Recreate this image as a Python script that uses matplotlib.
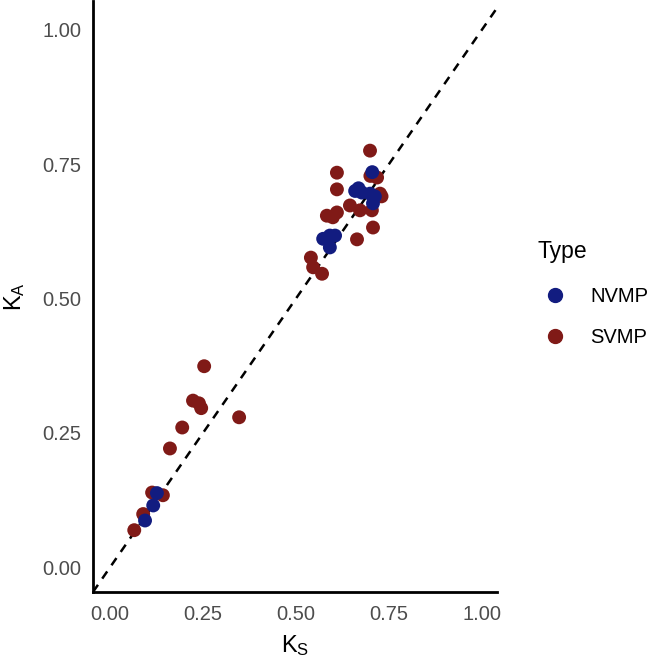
import numpy as np
import matplotlib.pyplot as plt
from matplotlib.lines import Line2D

plt.rcParams['font.family'] = ['Liberation Sans', 'DejaVu Sans']
plt.rcParams['mathtext.fontset'] = 'custom'
plt.rcParams['mathtext.rm'] = 'Liberation Sans'
plt.rcParams['mathtext.it'] = 'Liberation Sans'

# NVMP points (Ks, Ka)
nvmp_ks = [0.094, 0.116, 0.126, 0.573, 0.591, 0.605, 0.591, 0.659, 0.677,
           0.699, 0.707, 0.705, 0.712, 0.668]
nvmp_ka = [0.087, 0.115, 0.138, 0.611, 0.595, 0.617, 0.617, 0.700, 0.697,
           0.695, 0.677, 0.735, 0.690, 0.705]

# SVMP points (Ks, Ka)
svmp_ks = [0.065, 0.089, 0.113, 0.142, 0.161, 0.194, 0.223, 0.239, 0.245,
           0.253, 0.347, 0.540, 0.546, 0.570, 0.583, 0.599, 0.610, 0.645,
           0.672, 0.704, 0.707, 0.664, 0.610, 0.610, 0.699, 0.700, 0.718,
           0.726, 0.730]
svmp_ka = [0.069, 0.099, 0.139, 0.134, 0.221, 0.260, 0.310, 0.305, 0.296,
           0.374, 0.279, 0.576, 0.558, 0.546, 0.654, 0.651, 0.660, 0.673,
           0.664, 0.664, 0.632, 0.610, 0.734, 0.703, 0.775, 0.728, 0.725,
           0.695, 0.690]

blue = '#121C80'
red = '#801A17'

fig = plt.figure(figsize=(6.52, 6.58), dpi=100)
ax = fig.add_axes([0.1426, 0.1003, 0.6194, 0.8987])

ax.axline((0, 0), slope=1, color='black', lw=1.8, ls=(0, (3.5, 3)), zorder=1)
ax.scatter(nvmp_ks, nvmp_ka, s=100, color=blue, edgecolors='none', zorder=3)
ax.scatter(svmp_ks, svmp_ka, s=100, color=red, edgecolors='none', zorder=2)

ax.set_xlim(-0.046, 1.04)
ax.set_ylim(-0.046, 1.054)
ticks = [0, 0.25, 0.5, 0.75, 1.0]
labels = ['0.00', '0.25', '0.50', '0.75', '1.00']
ax.set_xticks(ticks, labels)
ax.set_yticks(ticks, labels)
ax.tick_params(length=0, labelsize=14.5, labelcolor='#4D4D4D')
ax.tick_params(axis='x', pad=9.5)
ax.tick_params(axis='y', pad=8.5)

for s in ['top', 'right']:
    ax.spines[s].set_visible(False)
for s in ['left', 'bottom']:
    ax.spines[s].set_linewidth(2)

ax.set_xlabel(r'$\mathregular{K_S}$', fontsize=17)
ax.set_ylabel(r'$\mathregular{K_A}$', fontsize=17)
ax.xaxis.set_label_coords(0.5, -0.07)
ax.yaxis.set_label_coords(-0.163, 0.5)

# legend title drawn on its own so its spacing can follow the reference
fig.text(537 / 652, 1 - 258 / 658, 'Type', fontsize=16.5, ha='left', va='baseline')

handles = [Line2D([], [], marker='o', ls='none', color=blue, markersize=10),
           Line2D([], [], marker='o', ls='none', color=red, markersize=10)]
leg = fig.legend(handles, ['NVMP', 'SVMP'], loc='center left',
                 bbox_to_anchor=(537 / 652, 1 - 317 / 658), frameon=False,
                 fontsize=14.5, handlelength=1.8, handletextpad=0.85,
                 labelspacing=1.05, borderpad=0, borderaxespad=0)

fig.savefig('out.png', dpi=100)
